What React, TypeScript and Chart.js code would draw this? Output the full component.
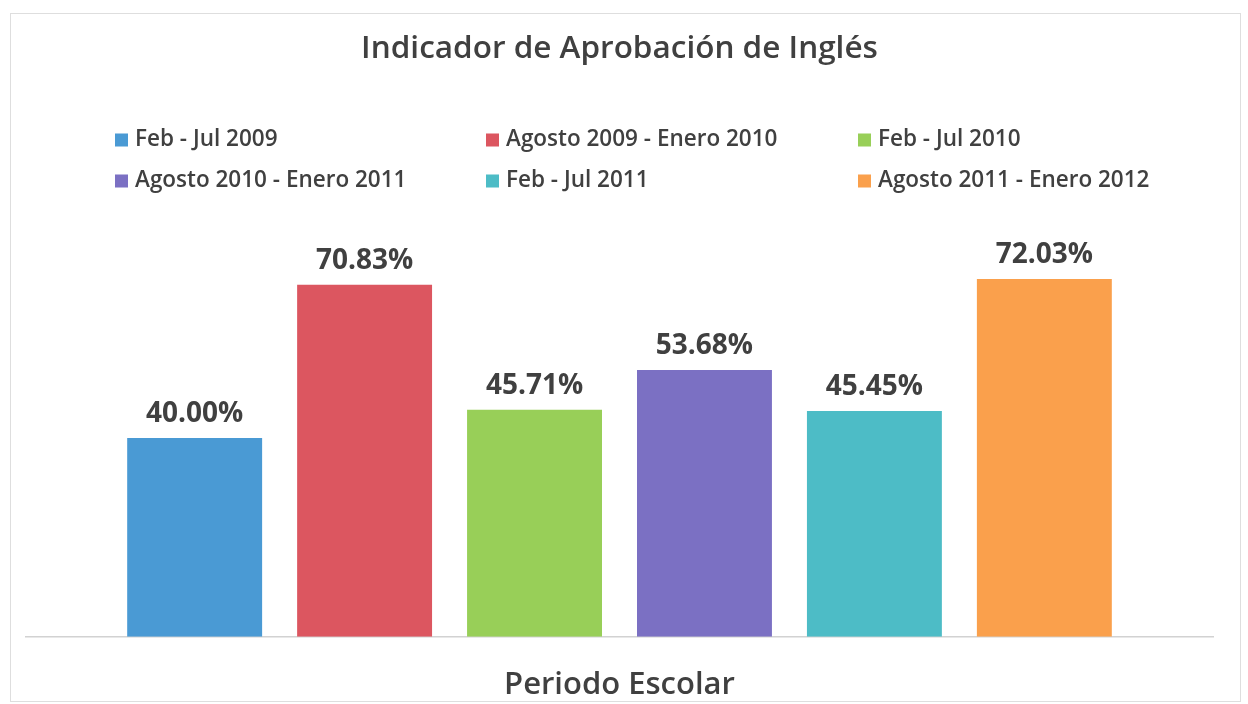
import { useEffect, useRef } from "react";
import { Chart, registerables } from "chart.js";

Chart.register(...registerables);

// ---- data ----
const categoryLabels = [""];
const seriesLabels = [
  "Feb - Jul 2009",
  "Agosto 2009 - Enero 2010",
  "Feb - Jul 2010",
  "Agosto 2010 - Enero 2011",
  "Feb - Jul 2011",
  "Agosto 2011 - Enero 2012",
];
const seriesValues = [40.0, 70.83, 45.71, 53.68, 45.45, 72.03];
const seriesColors = ["#4a9ad4", "#dc5660", "#98cf58", "#7b70c3", "#4dbcc6", "#faa04c"];
const titleText = "Indicador de Aprobación de Inglés";
const xAxisTitle = "Periodo Escolar";
const yMin = 0;
const yMax = 80;

const TEXT = "#404040";
const FONT = "'Open Sans', 'Noto Sans', sans-serif";
const LEGEND_COLS = [115, 486, 858];
const LEGEND_ROWS = [140, 181];

const gridLegend = {
  id: "gridLegend",
  afterDraw(chart: any) {
    const ctx = chart.ctx;
    ctx.save();
    ctx.font = `600 22.5px ${FONT}`;
    ctx.textBaseline = "middle";
    ctx.textAlign = "left";
    chart.data.datasets.forEach((ds: any, i: number) => {
      const col = i % 3;
      const row = Math.floor(i / 3);
      const x = LEGEND_COLS[col];
      const y = LEGEND_ROWS[row];
      ctx.fillStyle = ds.backgroundColor;
      ctx.fillRect(x, y - 6.5, 13, 13);
      ctx.fillStyle = TEXT;
      ctx.fillText(ds.label, x + 20, y);
    });
    ctx.restore();
  },
};

const valueLabels = {
  id: "valueLabels",
  afterDatasetsDraw(chart: any) {
    const ctx = chart.ctx;
    ctx.save();
    ctx.font = `bold 28px ${FONT}`;
    ctx.textBaseline = "alphabetic";
    ctx.textAlign = "center";
    ctx.fillStyle = TEXT;
    chart.data.datasets.forEach((ds: any, i: number) => {
      const meta = chart.getDatasetMeta(i);
      meta.data.forEach((bar: any, j: number) => {
        const v = ds.data[j] as number;
        ctx.fillText(v.toFixed(2) + "%", bar.x, bar.y - 16);
      });
    });
    ctx.restore();
  },
};

export default function App() {
  const ref = useRef<HTMLCanvasElement | null>(null);

  useEffect(() => {
    if (!ref.current) return;
    const chart = new Chart(ref.current, {
      type: "bar",
      data: {
        labels: categoryLabels,
        datasets: seriesLabels.map((label, i) => ({
          label,
          data: [seriesValues[i]],
          backgroundColor: seriesColors[i],
          borderWidth: 0,
          categoryPercentage: 0.859,
          barPercentage: 0.794,
        })),
      },
      options: {
        animation: false,
        responsive: true,
        maintainAspectRatio: false,
        layout: { padding: { left: 26, right: 35, top: 0, bottom: 0 } },
        plugins: {
          legend: { display: false },
          tooltip: { enabled: false },
          title: {
            display: true,
            text: titleText,
            color: TEXT,
            font: { family: FONT, size: 31.5, weight: "600" },
            padding: { top: 30, bottom: 171.5 },
          },
        },
        scales: {
          x: {
            type: "category",
            ticks: { display: false },
            grid: { display: false, drawTicks: false },
            border: { display: true, color: "#d2d2d2", width: 1.5 },
            title: {
              display: true,
              text: xAxisTitle,
              color: TEXT,
              font: { family: FONT, size: 31, weight: "600" },
              padding: { top: 30, bottom: 0 },
            },
          },
          y: {
            display: false,
            min: yMin,
            max: yMax,
          },
        },
      },
      plugins: [gridLegend, valueLabels],
    });
    return () => chart.destroy();
  }, []);

  return (
    <div
      style={{
        position: "absolute",
        left: 0,
        top: 0,
        width: 1248,
        height: 704,
        background: "#ffffff",
        overflow: "hidden",
      }}
    >
      <div
        style={{
          position: "absolute",
          left: 10,
          top: 13,
          width: 1229,
          height: 687,
          border: "1px solid #dedede",
        }}
      />
      <canvas ref={ref} style={{ position: "absolute", left: 0, top: 0 }} />
    </div>
  );
}
